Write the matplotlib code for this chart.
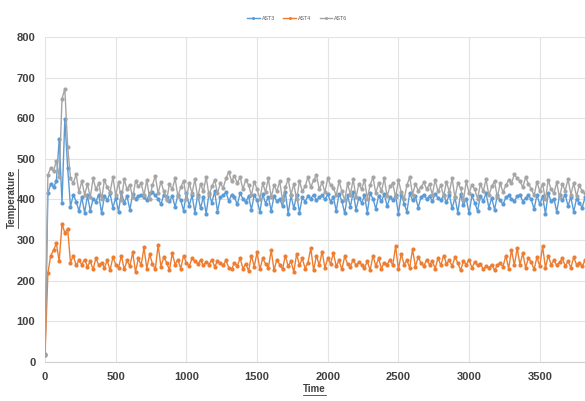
import numpy as np
import matplotlib
matplotlib.use("Agg")
import matplotlib.pyplot as plt
from matplotlib.lines import Line2D

plt.rcParams['font.family'] = ['Liberation Sans', 'DejaVu Sans']

# time axis (sampled every 20 units)
time = list(range(0, 3821, 20))

ast3 = [
    20, 415, 438, 430, 445, 548, 392, 598, 478, 382, 412, 395, 372,
    405, 368, 410, 372, 402, 395, 412, 366, 408, 399,
    415, 380, 404, 370, 418, 392, 408, 375, 413, 401,
    409, 412, 405, 398, 415, 418, 410, 402, 388, 412,
    405, 396, 408, 382, 411, 399, 372, 416, 385, 410,
    368, 412, 378, 407, 365, 415, 392, 420, 370, 405,
    410, 418, 396, 412, 405, 388, 415, 402, 394, 408,
    375, 411, 398, 369, 414, 390, 406, 372, 409, 396,
    402, 384, 418, 365, 410, 378, 412, 368, 405, 395,
    408, 402, 412, 398, 405, 410, 400, 413, 395, 406,
    372, 414, 396, 366, 410, 382, 418, 375, 404, 392,
    410, 368, 415, 402, 377, 409, 396, 413, 384, 405,
    399, 410, 365, 412, 390, 370, 416, 398, 408, 380,
    406, 412, 401, 409, 396, 414, 404, 398, 410, 393,
    412, 378, 405, 368, 414, 386, 402, 366, 410, 392,
    372, 408, 397, 415, 380, 404, 375, 410, 398, 388,
    405, 410, 402, 396, 408, 412, 395, 404, 410, 400,
    376, 412, 388, 408, 365, 415, 396, 402, 370, 410,
    398, 412, 384, 406, 370, 402, 392, 380, 405,
]

ast4 = [
    18, 218, 262, 275, 292, 248, 340, 318, 328, 245, 262, 238, 250,
    240, 252, 235, 248, 228, 256, 238, 245, 232, 250,
    226, 258, 240, 232, 262, 228, 250, 236, 270, 222,
    255, 238, 282, 230, 265, 242, 228, 288, 235, 258,
    245, 226, 268, 240, 252, 230, 262, 244, 236, 255,
    248, 242, 250, 238, 246, 240, 252, 235, 248, 244,
    238, 250, 232, 228, 245, 236, 256, 230, 242, 224,
    262, 235, 270, 228, 255, 242, 232, 275, 226, 252,
    240, 228, 262, 236, 248, 222, 266, 238, 255, 230,
    245, 280, 226, 262, 238, 272, 232, 255, 242, 268,
    236, 250, 228, 260, 242, 235, 252, 238, 246, 240,
    232, 248, 226, 262, 236, 255, 230, 245, 240, 252,
    238, 285, 228, 266, 240, 250, 232, 278, 235, 258,
    244, 236, 252, 240, 248, 230, 256, 238, 262, 242,
    250, 236, 258, 244, 226, 248, 240, 252, 232, 246,
    238, 242, 228, 236, 232, 240, 226, 238, 244, 235,
    262, 230, 276, 238, 280, 240, 268, 232, 256, 246,
    228, 258, 236, 285, 232, 262, 240, 250, 238, 246,
    255, 236, 248, 232, 258, 240, 244, 236, 250,
]

ast6 = [
    18, 460, 478, 470, 495, 455, 648, 672, 530, 452, 440, 462, 418,
    445, 412, 438, 405, 452, 425, 440, 400, 448, 430,
    418, 455, 410, 442, 398, 450, 425, 436, 405, 445,
    432, 440, 410, 448, 402, 436, 458, 415, 444, 420,
    398, 438, 425, 452, 408, 430, 446, 402, 440, 415,
    450, 405, 438, 420, 455, 410, 432, 448, 415, 440,
    428, 452, 468, 445, 458, 440, 455, 425, 448, 436,
    410, 444, 425, 402, 440, 418, 452, 405, 435, 420,
    445, 398, 430, 450, 412, 438, 400, 446, 420, 432,
    455, 430, 448, 460, 425, 442, 418, 452, 436, 428,
    410, 445, 420, 398, 440, 412, 450, 405, 438, 425,
    448, 402, 436, 455, 415, 440, 420, 452, 408, 432,
    440, 405, 448, 418, 400, 435, 455, 412, 438, 422,
    430, 442, 425, 438, 412, 448, 420, 435, 408, 444,
    418, 452, 405, 440, 428, 398, 445, 415, 436, 425,
    402, 438, 420, 450, 410, 432, 445, 405, 440, 418,
    435, 448, 440, 462, 452, 445, 430, 455, 438, 426,
    410, 444, 420, 438, 400, 448, 425, 415, 442, 405,
    438, 422, 450, 412, 440, 408, 435, 420, 415,
]

series = [("AST3", ast3, "#5B9BD5"), ("AST4", ast4, "#ED7D31"), ("AST6", ast6, "#A5A5A5")]

fig = plt.figure(figsize=(5.85, 4.01), dpi=100)
ax = fig.add_axes([0.077, 0.097, 0.923, 0.811])

for name, vals, col in series:
    ax.plot(time, vals, color=col, lw=1.0, marker='o', ms=2.0, mec=col, mfc=col, label=name)

ax.set_xlim(0, 3820)
ax.set_ylim(0, 800)
ax.set_xticks(range(0, 3501, 500))
ax.set_yticks(range(0, 801, 100))
ax.grid(True, color='#E3E3E3', lw=0.8)
ax.set_axisbelow(True)
for s in ['top', 'right', 'left']:
    ax.spines[s].set_visible(False)
ax.spines['bottom'].set_color('#D0D0D0')
ax.tick_params(length=0, labelsize=8, colors='#404040', pad=7)
for lab in ax.get_xticklabels() + ax.get_yticklabels():
    lab.set_fontweight('bold')

# axis titles, underlined like the original
xl = fig.text(0.538, 0.03, 'Time', fontsize=7, fontweight='bold', color='#404040',
              ha='center', va='center')
yl = fig.text(0.02, 0.505, 'Temperature', fontsize=7, fontweight='bold', color='#404040',
              ha='center', va='center', rotation=90)

ax.legend(loc='center', bbox_to_anchor=(0.467, 1.058), ncol=3, frameon=False,
          fontsize=3.8, handlelength=2.4, columnspacing=1.6, handletextpad=0.4,
          labelcolor='#595959', markerscale=0.6)

fig.canvas.draw()
inv = fig.transFigure.inverted()
bb = xl.get_window_extent().transformed(inv)
fig.add_artist(Line2D([bb.x0, bb.x1], [bb.y0 - 0.002, bb.y0 - 0.002],
                      transform=fig.transFigure, color='#404040', lw=0.6))
bb = yl.get_window_extent().transformed(inv)
fig.add_artist(Line2D([bb.x1 + 0.002, bb.x1 + 0.002], [bb.y0, bb.y1],
                      transform=fig.transFigure, color='#404040', lw=0.6))

fig.savefig("out.png", dpi=100)
